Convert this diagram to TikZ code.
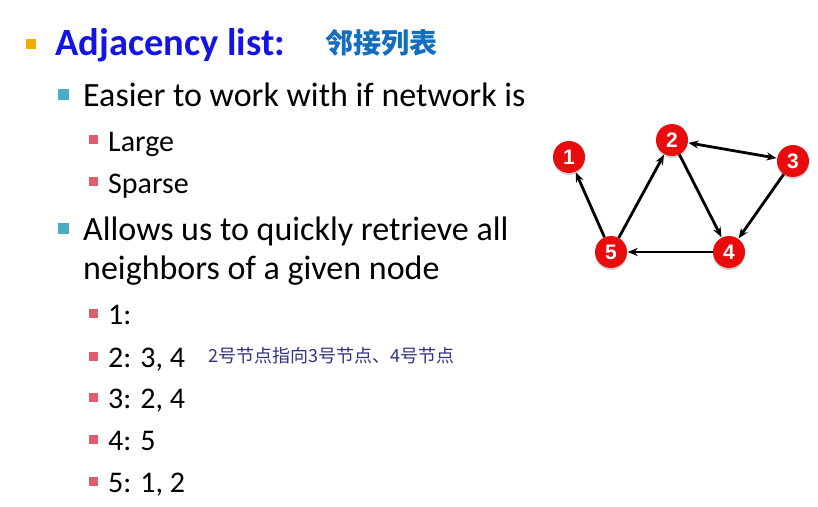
\documentclass[tikz,border=0pt]{standalone}
\usepackage{fontspec}
\setmainfont{Carlito}
\newfontfamily\cjk{Noto Sans CJK SC}
\newfontfamily\arialf{Liberation Sans}
\usetikzlibrary{arrows.meta,shadows}
\definecolor{bulorange}{RGB}{242,169,0}
\definecolor{bulteal}{RGB}{75,172,198}
\definecolor{bulpink}{RGB}{226,92,110}
\definecolor{titleblue}{RGB}{20,20,230}
\definecolor{cnblue}{RGB}{20,110,190}
\definecolor{nodered}{RGB}{232,12,12}
\definecolor{handink}{RGB}{50,50,130}
\tikzset{
  lvlone/.style={anchor=base west, inner sep=0pt, font=\fontsize{38.5}{42}\selectfont\bfseries, text=titleblue},
  lvltwo/.style={anchor=base west, inner sep=0pt, font=\fontsize{34}{38}\selectfont, text=black},
  lvlthree/.style={anchor=base west, inner sep=0pt, font=\fontsize{30}{34}\selectfont, text=black},
  bone/.style={fill=bulorange, minimum size=10pt, inner sep=0pt},
  btwo/.style={fill=bulteal, minimum size=11pt, inner sep=0pt},
  bthree/.style={fill=bulpink, minimum size=9pt, inner sep=0pt},
  gnode/.style={circle, fill=nodered, minimum size=32pt, inner sep=0pt, text=white,
    font=\arialf\bfseries\fontsize{21}{21}\selectfont,
    drop shadow={opacity=0.35, shadow xshift=0pt, shadow yshift=-2pt}},
  garrow/.style={-{Stealth[length=10pt,width=8pt]}, line width=2.8pt, black, shorten >=0.5pt},
}
\begin{document}
\begin{tikzpicture}[x=1pt,y=-1pt]
\useasboundingbox[fill=white] (0,0) rectangle (818,506);
% level 1
\node[bone] (b1) at (30.5,44) {};
\node[lvlone] (t1) at (55,55) {Adjacency list:};
\node[anchor=base west, inner sep=0pt, text=cnblue, font=\cjk\bfseries\fontsize{28}{30}\selectfont] (t1cn) at (325,53) {邻接列表};
% level 2
\node[btwo] (b2) at (63.5,94) {};
\node[lvltwo] (t2) at (83,106) {Easier to work with if network is};
\node[bthree] (b3) at (93,139) {};
\node[lvlthree] (t3) at (108,151) {Large};
\node[bthree] (b4) at (93,181) {};
\node[lvlthree] (t4) at (108,193) {Sparse};
\node[btwo] (b5) at (63.5,228.5) {};
\node[lvltwo] (t5) at (83,240) {Allows us to quickly retrieve all};
\node[lvltwo] (t5b) at (83,279) {neighbors of a given node};
\node[bthree] (b6) at (93,313.5) {};
\node[lvlthree] (t6) at (108,324) {1:};
\node[bthree] (b7) at (93,356) {};
\node[lvlthree] (t7) at (108,367) {2: 3, 4};
\node[bthree] (b8) at (93,397) {};
\node[lvlthree] (t8) at (108,408) {3: 2, 4};
\node[bthree] (b9) at (93,439) {};
\node[lvlthree] (t9) at (108,450) {4: 5};
\node[bthree] (b10) at (93,481) {};
\node[lvlthree] (t10) at (108,492) {5: 1, 2};
\node[anchor=base west, inner sep=0pt, text=handink, font=\cjk\fontsize{18}{19}\selectfont] (note) at (208,362) {2号节点指向3号节点、4号节点};
% graph
\node[gnode] (n1) at (569,157) {1};
\node[gnode] (n2) at (672,140) {2};
\node[gnode] (n3) at (793,161) {3};
\node[gnode] (n4) at (729,252) {4};
\node[gnode] (n5) at (611,252) {5};
\draw[garrow] (n5) -- (n1);
\draw[garrow] (n5) -- (n2);
\draw[garrow] (n2) -- (n4);
\draw[garrow] (n3) -- (n4);
\draw[garrow] (n4) -- (n5);
\draw[garrow, {Stealth[length=10pt,width=8pt]}-{Stealth[length=10pt,width=8pt]}, shorten <=0.5pt] (n2) -- (n3);
\end{tikzpicture}
\end{document}
